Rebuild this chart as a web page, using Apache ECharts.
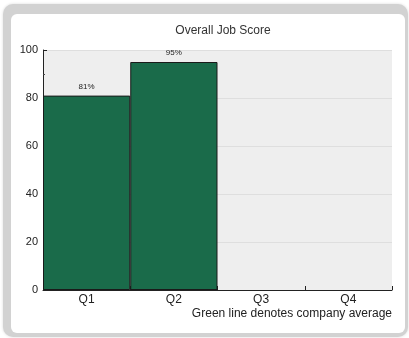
<!DOCTYPE html>
<html>
<head>
<meta charset="utf-8">
<style>
  html, body { margin: 0; padding: 0; background: #ffffff; }
  #chart { width: 409px; height: 338px; }
</style>
<script src="https://cdn.jsdelivr.net/npm/echarts@6/dist/echarts.min.js"></script>
</head>
<body>
<div id="chart"></div>
<script>
// Quarterly scores (percent); quarters without a score yet are null
const quarters = ['Q1', 'Q2', 'Q3', 'Q4'];
const scores = [81, 95, null, null];
const yTicks = [0, 20, 40, 60, 80, 100];

const chart = echarts.init(document.getElementById('chart'), null, { renderer: 'canvas' });

chart.setOption({
  animation: false,
  backgroundColor: '#ffffff',
  graphic: [
    // rounded panel frame with a soft grey rim
    { type: 'rect', z: -10, shape: { x: 3, y: 4, width: 405, height: 333, r: 10 },
      style: { fill: '#d2d2d2', shadowBlur: 3, shadowColor: 'rgba(0,0,0,0.15)' } },
    { type: 'rect', z: -9, shape: { x: 11, y: 14, width: 394, height: 319, r: 6 },
      style: { fill: '#ffffff' } },
    // footnote under the category axis
    { type: 'text', right: 17, top: 308,
      style: { text: 'Green line denotes company average', fontFamily: 'Liberation Sans',
               fontSize: 12, fill: '#222222' } }
  ],
  title: {
    text: 'Overall Job Score',
    left: 218, top: 20, textAlign: 'center',
    textStyle: { fontFamily: 'Liberation Sans', fontSize: 12, fontWeight: 'normal', color: '#333333' }
  },
  grid: {
    left: 43, right: 17, top: 50, bottom: 48,
    show: true, backgroundColor: '#eeeeee', borderWidth: 0
  },
  xAxis: {
    type: 'category',
    data: quarters,
    boundaryGap: true,
    axisLine: { lineStyle: { color: '#222222', width: 1 } },
    axisTick: { show: true, inside: true, length: 4, alignWithLabel: false, lineStyle: { color: '#222222' } },
    axisLabel: { fontFamily: 'Liberation Sans', fontSize: 12, color: '#222222', margin: 4 }
  },
  yAxis: {
    type: 'value',
    min: yTicks[0], max: yTicks[yTicks.length - 1], interval: 20,
    axisLine: { show: true, lineStyle: { color: '#222222', width: 1 } },
    axisTick: { show: true, inside: true, length: 4, lineStyle: { color: '#222222' } },
    minorTick: { show: true, splitNumber: 2, length: 2, lineStyle: { color: '#444444' } },
    splitLine: { show: true, lineStyle: { color: '#dedede', width: 1 } },
    axisLabel: { fontFamily: 'Liberation Sans', fontSize: 11, color: '#222222', margin: 5 }
  },
  series: [{
    type: 'bar',
    data: scores,
    barCategoryGap: '0%',
    itemStyle: { color: '#1a6b4a', borderColor: '#1a1a1a', borderWidth: 1 },
    label: {
      show: true, position: 'top', distance: 5,
      formatter: p => p.value + '%',
      fontFamily: 'Liberation Sans', fontSize: 8, color: '#222222'
    }
  }]
});
</script>
</body>
</html>
